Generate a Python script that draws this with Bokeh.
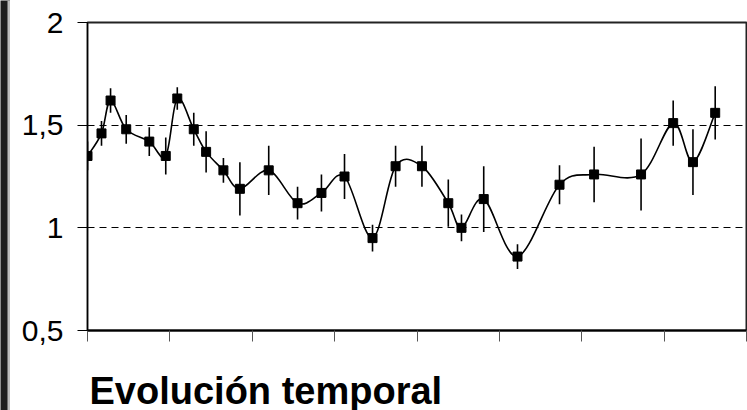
import numpy as np
from bokeh.plotting import figure
from bokeh.models import FixedTicker, Range1d, CustomJSTickFormatter, Label, BoxAnnotation
from bokeh.layouts import row, column
from bokeh.embed import file_html
from bokeh.resources import INLINE

# ---- data ----
x_vals = [0.00, 0.17, 0.28, 0.47, 0.75, 0.95, 1.09, 1.29, 1.44, 1.65, 1.85, 2.20, 2.55, 2.84,
          3.12, 3.46, 3.74, 4.06, 4.38, 4.54, 4.81, 5.22, 5.73, 6.15, 6.72, 7.11, 7.35, 7.62]
y_vals = [1.35, 1.46, 1.62, 1.48, 1.42, 1.35, 1.63, 1.48, 1.37, 1.28, 1.19, 1.28, 1.12, 1.17,
          1.25, 0.95, 1.30, 1.30, 1.12, 1.00, 1.14, 0.86, 1.21, 1.26, 1.26, 1.51, 1.32, 1.56]
err_vals = [0.07, 0.06, 0.06, 0.07, 0.07, 0.09, 0.055, 0.08, 0.10, 0.06, 0.13, 0.12, 0.08, 0.09,
            0.11, 0.065, 0.10, 0.10, 0.115, 0.065, 0.16, 0.06, 0.095, 0.135, 0.175, 0.11, 0.16, 0.13]
x_ticks = [0, 1, 2, 3, 4, 5, 6, 7, 8]
y_ticks = [0.5, 1.0, 1.5, 2.0]
y_tick_labels = {0.5: "0,5", 1.0: "1", 1.5: "1,5", 2.0: "2"}
title_text = "Evolución temporal"

FONT = "Liberation Sans"

# ---------------- main chart ----------------
p = figure(width=737, height=350, output_backend="svg", toolbar_location=None,
           title=None, x_range=Range1d(0, 8), y_range=Range1d(0.5, 2.0),
           min_border_left=77, min_border_right=1, min_border_top=22, min_border_bottom=20,
           margin=0)
p.background_fill_color = "white"
p.border_fill_color = "white"
p.outline_line_color = "#222222"
p.outline_line_width = 2

p.yaxis.ticker = FixedTicker(ticks=y_ticks)
p.yaxis.major_label_overrides = y_tick_labels
p.yaxis.major_label_text_font = FONT
p.yaxis.major_label_text_font_size = "30px"
p.yaxis.major_label_text_color = "black"
p.yaxis.major_label_standoff = 14
p.yaxis.major_tick_out = 10
p.yaxis.major_tick_in = 0
p.yaxis.minor_tick_out = 0
p.yaxis.minor_tick_in = 0
p.yaxis.axis_line_color = "black"
p.yaxis.major_tick_line_color = "black"

p.xaxis.ticker = FixedTicker(ticks=x_ticks)
p.xaxis.formatter = CustomJSTickFormatter(code="return ''")
p.xaxis.major_label_standoff = 0
p.xaxis.major_tick_out = 11
p.xaxis.major_tick_in = 0
p.xaxis.minor_tick_out = 0
p.xaxis.minor_tick_in = 0
p.xaxis.axis_line_color = "black"
p.xaxis.axis_line_width = 2
p.xaxis.major_tick_line_color = "#555555"

p.xgrid.visible = False
p.ygrid.ticker = FixedTicker(ticks=[1.0, 1.5])
p.ygrid.grid_line_color = "black"
p.ygrid.grid_line_dash = "7 5"
p.ygrid.grid_line_width = 1

# smoothed line (Bezier segments through the data points)
xa = np.array(x_vals)
ya = np.array(y_vals)
xp = np.concatenate([[xa[0]], xa, [xa[-1]]])
yp = np.concatenate([[ya[0]], ya, [ya[-1]]])
n = len(xa)
x0 = xa[:-1]; y0 = ya[:-1]; x1 = xa[1:]; y1 = ya[1:]
cx0 = xp[1:n] + (xp[2:n + 1] - xp[0:n - 1]) / 6.0
cy0 = yp[1:n] + (yp[2:n + 1] - yp[0:n - 1]) / 6.0
cx1 = xp[2:n + 1] - (xp[3:n + 2] - xp[1:n]) / 6.0
cy1 = yp[2:n + 1] - (yp[3:n + 2] - yp[1:n]) / 6.0
p.bezier(x0=x0, y0=y0, x1=x1, y1=y1, cx0=cx0, cy0=cy0, cx1=cx1, cy1=cy1,
         line_color="black", line_width=1.6)

ea = np.array(err_vals)
p.segment(x0=xa, y0=ya - ea, x1=xa, y1=ya + ea, line_color="black", line_width=1.6)
p.scatter(x=xa, y=ya, marker="square", size=9, fill_color="black", line_color="black")

# ---------------- title strip ----------------
t = figure(width=737, height=60, output_backend="svg", toolbar_location=None, title=None,
           x_axis_type=None, y_axis_type=None, x_range=Range1d(0, 1), y_range=Range1d(0, 1),
           min_border=0, margin=0)
t.outline_line_color = None
t.background_fill_color = "white"
t.border_fill_color = "white"
t.xgrid.visible = False
t.ygrid.visible = False
t.add_layout(Label(x=79, y=40, x_units="canvas", y_units="canvas", text=title_text,
                   text_font=FONT, text_font_size="38px", text_font_style="bold",
                   text_color="black", text_align="left", text_baseline="alphabetic"))

# ---------------- window edge on the left ----------------
s = figure(width=10, height=410, output_backend="svg", toolbar_location=None, title=None,
           x_axis_type=None, y_axis_type=None, x_range=Range1d(0, 1), y_range=Range1d(0, 1),
           min_border=0, margin=0)
s.outline_line_color = None
s.background_fill_color = "#1e1e1e"
s.border_fill_color = "#1e1e1e"
s.xgrid.visible = False
s.ygrid.visible = False
s.add_layout(BoxAnnotation(left=7, right=10, top=0, bottom=410,
                           left_units="canvas", right_units="canvas",
                           top_units="canvas", bottom_units="canvas",
                           fill_color="#bdbdbd", fill_alpha=1, line_color=None))

layout = row(s, column(p, t, spacing=0, margin=0), spacing=0, margin=0)
open("out.html", "w").write(file_html(layout, INLINE))
